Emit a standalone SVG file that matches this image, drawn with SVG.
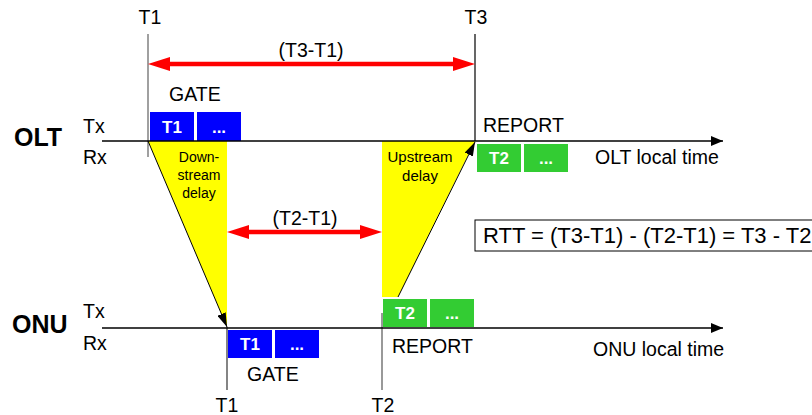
<svg xmlns="http://www.w3.org/2000/svg" width="812" height="415" viewBox="0 0 812 415">
<style>
text{font-family:"Liberation Sans",Arial,sans-serif;fill:#000}
.lbl{font-size:19.5px}
.big{font-size:25px;font-weight:bold}
.box{font-size:17px;font-weight:bold;fill:#fff}
.small{font-size:14px}
.up{font-size:15px}
.blue{fill:#0000ff}
.green{fill:#33cc33}
.yellow{fill:#ffff00;stroke:none}
.axis{stroke:#000;stroke-width:1.5;fill:none}
.red{stroke:#ff0000;stroke-width:4.5;fill:none}
.diag{stroke:#000;stroke-width:1;fill:none}
</style>
<defs>
<marker id="ah" markerUnits="userSpaceOnUse" markerWidth="12" markerHeight="10" refX="12" refY="5" orient="auto"><path d="M0,0 L12,5 L0,10 z" fill="#000"/></marker>
<marker id="rh" markerUnits="userSpaceOnUse" markerWidth="22" markerHeight="14" refX="0" refY="7" orient="auto-start-reverse"><path d="M0,0 L22,7 L0,14 z" fill="#ff0000"/></marker>
<marker id="dh" markerUnits="userSpaceOnUse" markerWidth="14" markerHeight="9" refX="14" refY="4.5" orient="auto"><path d="M0,0 L14,4.5 L0,9 z" fill="#000"/></marker>
</defs>
<rect width="812" height="415" fill="#fff"/>

<g id="delays">
<polygon class="yellow" points="148,141 227,141 227,327"/>
<polygon class="yellow" points="382,141 475,141 398,297 382,297"/>
<text class="small" text-anchor="middle" x="199" y="162">Down-</text>
<text class="small" text-anchor="middle" x="199" y="180">stream</text>
<text class="small" text-anchor="middle" x="199" y="198">delay</text>
<text class="up" text-anchor="middle" x="420" y="162">Upstream</text>
<text class="up" text-anchor="middle" x="420" y="181">delay</text>
</g>

<g id="olt">
<text class="big" x="14" y="146">OLT</text>
<text class="lbl" x="83" y="133">Tx</text>
<text class="lbl" x="83" y="164">Rx</text>
<text class="lbl" x="595" y="164">OLT local time</text>
</g>

<g id="onu">
<text class="big" x="12" y="333">ONU</text>
<text class="lbl" x="83" y="318">Tx</text>
<text class="lbl" x="83" y="350">Rx</text>
<text class="lbl" x="593" y="356">ONU local time</text>
</g>

<g id="olt-gate">
<text class="lbl" x="169" y="101">GATE</text>
<rect class="blue" x="150" y="112" width="44" height="29"/>
<rect class="blue" x="197" y="112" width="44" height="29"/>
<text class="box" text-anchor="middle" x="172" y="133">T1</text>
<text class="box" text-anchor="middle" x="219" y="133">...</text>
</g>

<g id="olt-report">
<text class="lbl" x="483" y="132">REPORT</text>
<rect class="green" x="477" y="144" width="44" height="28"/>
<rect class="green" x="524" y="144" width="44" height="28"/>
<text class="box" text-anchor="middle" x="499" y="164">T2</text>
<text class="box" text-anchor="middle" x="546" y="164">...</text>
</g>

<g id="onu-gate">
<rect class="blue" x="228" y="330" width="44" height="28"/>
<rect class="blue" x="275" y="330" width="44" height="28"/>
<text class="box" text-anchor="middle" x="250" y="350">T1</text>
<text class="box" text-anchor="middle" x="297" y="350">...</text>
<text class="lbl" x="247" y="381">GATE</text>
</g>

<g id="onu-report">
<rect class="green" x="383" y="299" width="44" height="28"/>
<rect class="green" x="430" y="299" width="44" height="28"/>
<text class="box" text-anchor="middle" x="405" y="319">T2</text>
<text class="box" text-anchor="middle" x="452" y="319">...</text>
<text class="lbl" x="392" y="353">REPORT</text>
</g>

<g id="time-marks">
<line x1="148" y1="34" x2="148" y2="157" stroke="#808080" stroke-width="1.5"/>
<text class="lbl" text-anchor="middle" x="150" y="24">T1</text>
<line x1="475" y1="34" x2="475" y2="141" stroke="#000" stroke-width="1.2"/>
<text class="lbl" text-anchor="middle" x="476" y="24">T3</text>
<line x1="227" y1="327" x2="227" y2="390" stroke="#333" stroke-width="1.2"/>
<text class="lbl" text-anchor="middle" x="227" y="412">T1</text>
<line x1="382" y1="313" x2="382" y2="390" stroke="#555" stroke-width="1.2"/>
<text class="lbl" text-anchor="middle" x="383" y="412">T2</text>
</g>

<g id="rtt">
<rect x="475" y="220" width="345" height="31" fill="#fff" stroke="#000" stroke-width="1"/>
<text x="483" y="243" style="font-size:22px">RTT = (T3-T1) - (T2-T1) = T3 - T2</text>
</g>

<g id="connectors">
<line class="axis" x1="102" y1="141" x2="723" y2="141" marker-end="url(#ah)"/>
<line class="axis" x1="102" y1="328" x2="723" y2="328" marker-end="url(#ah)"/>
<line class="red" x1="170" y1="64" x2="453" y2="64" marker-start="url(#rh)" marker-end="url(#rh)"/>
<text class="lbl" text-anchor="middle" x="311" y="57">(T3-T1)</text>
<line class="red" x1="249" y1="232" x2="360" y2="232" marker-start="url(#rh)" marker-end="url(#rh)"/>
<text class="lbl" text-anchor="middle" x="305" y="225">(T2-T1)</text>
<line class="diag" x1="148" y1="141" x2="227" y2="327" marker-end="url(#dh)"/>
<line class="diag" x1="398" y1="297" x2="475" y2="142" marker-end="url(#dh)"/>
</g>
</svg>
